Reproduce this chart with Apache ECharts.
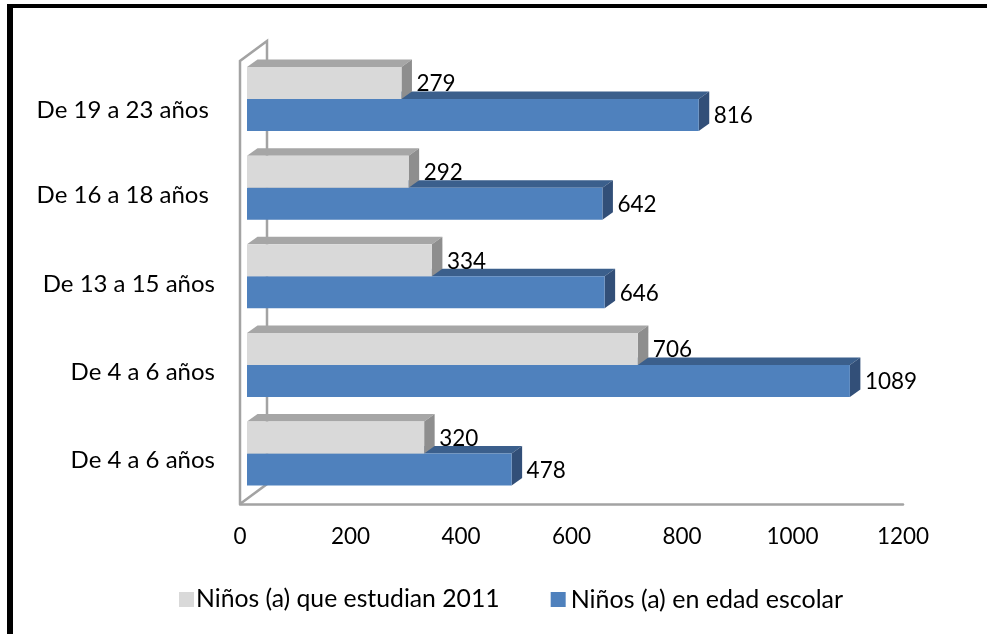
<!DOCTYPE html>
<html>
<head>
<meta charset="utf-8">
<style>html,body{margin:0;padding:0;background:#fff}#c{width:987px;height:634px}</style>
<script src="https://cdn.jsdelivr.net/npm/echarts@6/dist/echarts.min.js"></script>
</head>
<body>
<div id="c"></div>
<script>
const categories = ['De 4 a 6 años', 'De 4 a 6 años', 'De 13 a 15 años', 'De 16 a 18 años ', 'De 19 a 23 años '];
const estudian = [320, 706, 334, 292, 279];
const edadEscolar = [478, 1089, 646, 642, 816];
const xTicks = [0, 200, 400, 600, 800, 1000, 1200];
const seriesNames = ['Niños (a) que estudian 2011', 'Niños (a) en edad escolar'];

const FONT = 'Lato';
const DEPTH_X = 10.5, DEPTH_Y = 7.5, BAR_H = 32, INSET = 7, BAR_SCALE = 1.002;
const WALL_X = 27, WALL_Y = 20;
const labelPadTop = [2, 2, 4, 2, 10];

function bar3d(faceColor, topColor, sideColor, isUpper) {
  return function (params, api) {
    const idx = api.value(1);
    const v = api.value(0);
    const zero = api.coord([0, idx]);
    const end = api.coord([v, idx]);
    const groupMid = zero[1] - 6.2;
    const y0 = isUpper ? groupMid - BAR_H : groupMid;
    const x0 = zero[0] + INSET;
    const x1 = x0 + (end[0] - zero[0]) * BAR_SCALE;
    const y1 = y0 + BAR_H;
    const dx = DEPTH_X, dy = DEPTH_Y;
    return {
      type: 'group',
      children: [
        { type: 'polygon', shape: { points: [[x0, y0], [x0 + dx, y0 - dy], [x1 + dx, y0 - dy], [x1, y0]] }, style: { fill: topColor } },
        { type: 'polygon', shape: { points: [[x1, y0], [x1 + dx, y0 - dy], [x1 + dx, y1 - dy], [x1, y1]] }, style: { fill: sideColor } },
        { type: 'rect', shape: { x: x0, y: y0, width: x1 - x0, height: BAR_H }, style: { fill: faceColor } },
        { type: 'text', z2: 50, style: { x: x1 + dx + 4.5, y: y0 + BAR_H / 2 + 1, text: String(v), fill: '#000', font: '22.5px ' + FONT, textAlign: 'left', textVerticalAlign: 'middle' } }
      ]
    };
  };
}

function wall(params, api) {
  const bottom = api.coord([0, 0]);
  const size = api.size([0, 1]);
  const yB = bottom[1] + size[1] / 2;
  const yT = yB - size[1] * categories.length;
  const x = bottom[0];
  const st = { stroke: '#a3a3a3', lineWidth: 2.5, fill: null };
  return {
    type: 'group',
    children: [
      { type: 'polyline', shape: { points: [[x, yB], [x, yT], [x + WALL_X, yT - WALL_Y], [x + WALL_X, yB - WALL_Y], [x, yB]] }, style: st }
    ]
  };
}

const labelRich = {};
labelPadTop.forEach((p, i) => {
  labelRich['s' + i] = { color: '#000', fontFamily: FONT, fontSize: 24, padding: [p, 0, 0, 0] };
});

const chart = echarts.init(document.getElementById('c'), null, { renderer: 'canvas' });
chart.setOption({
  animation: false,
  backgroundColor: '#fff',
  grid: { left: 240, right: 84, top: 61, bottom: 130, containLabel: false },
  xAxis: {
    type: 'value', min: xTicks[0], max: xTicks[xTicks.length - 1], interval: 200,
    axisLine: { show: true, lineStyle: { color: '#a3a3a3', width: 2.5 } },
    axisTick: { show: false }, splitLine: { show: false },
    axisLabel: { color: '#000', fontFamily: FONT, fontSize: 22.5, margin: 21, formatter: v => String(v) }
  },
  yAxis: {
    type: 'category',
    data: categories,
    axisLine: { show: false }, axisTick: { show: false }, splitLine: { show: false },
    axisLabel: {
      color: '#000', fontFamily: FONT, fontSize: 24, margin: 25,
      formatter: (v, i) => '{s' + i + '|' + v + '}',
      rich: labelRich
    }
  },
  legend: {
    left: 174, top: 582, itemWidth: 15, itemHeight: 15, itemGap: 51,
    data: [
      { name: seriesNames[0], icon: 'rect' },
      { name: seriesNames[1], icon: 'rect', textStyle: { color: '#000', fontFamily: FONT, fontSize: 25, padding: [0, 0, 0, 0] } }
    ],
    textStyle: { color: '#000', fontFamily: FONT, fontSize: 24.75, padding: [0, 0, 0, -3] }
  },
  series: [
    { type: 'custom', name: 'pared', z: 1, silent: true, coordinateSystem: 'cartesian2d', data: [[0, 0]], renderItem: wall },
    { type: 'custom', name: seriesNames[0], z: 4, coordinateSystem: 'cartesian2d',
      itemStyle: { color: '#d9d9d9' },
      data: estudian.map((v, i) => [v, i]), encode: { x: 0, y: 1 },
      renderItem: bar3d('#d9d9d9', '#a6a6a6', '#8e8e8e', true) },
    { type: 'custom', name: seriesNames[1], z: 3, coordinateSystem: 'cartesian2d',
      itemStyle: { color: '#4f81bd' },
      data: edadEscolar.map((v, i) => [v, i]), encode: { x: 0, y: 1 },
      renderItem: bar3d('#4f81bd', '#3b5f8c', '#324f78', false) }
  ],
  graphic: [
    { type: 'rect', silent: true, shape: { x: 7, y: 4, width: 980, height: 4 }, style: { fill: '#000' } },
    { type: 'rect', silent: true, shape: { x: 7, y: 4, width: 6, height: 630 }, style: { fill: '#000' } }
  ]
});
</script>
</body>
</html>
